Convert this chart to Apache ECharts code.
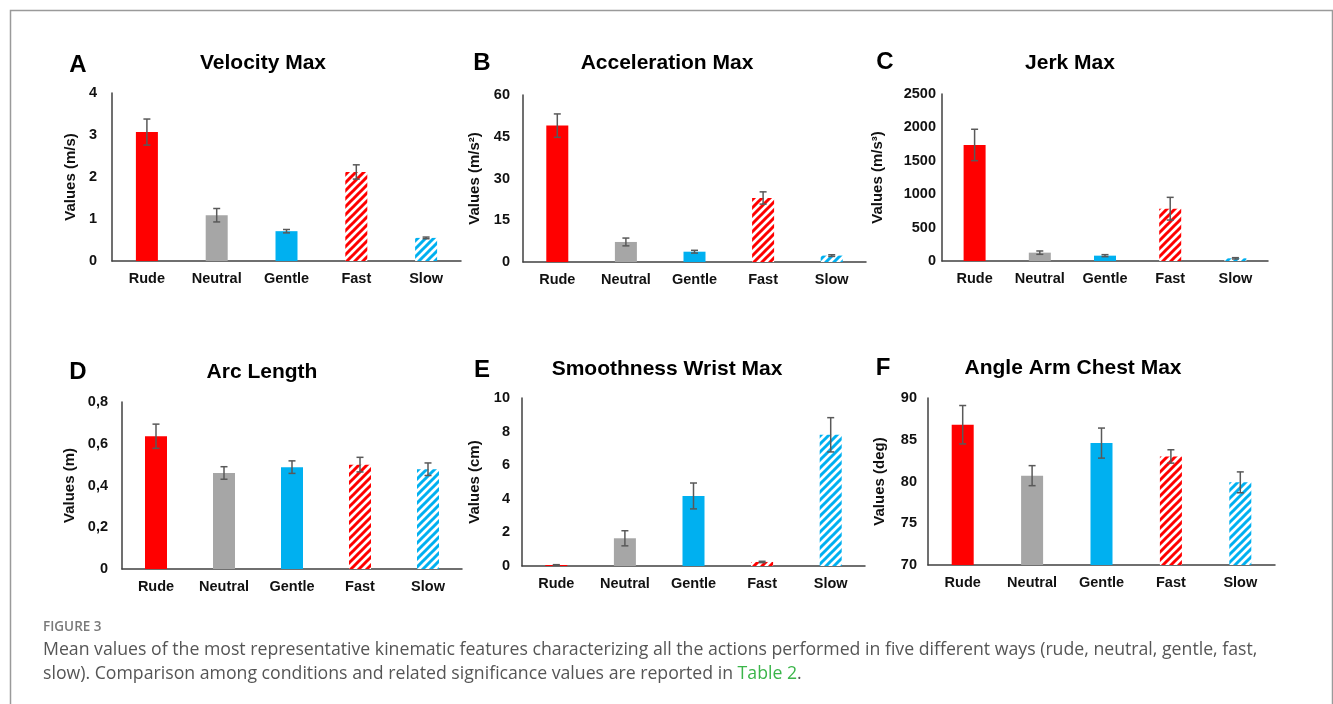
<!DOCTYPE html>
<html>
<head>
<meta charset="utf-8">
<script src="https://cdn.jsdelivr.net/npm/echarts@6/dist/echarts.min.js"></script>
<style>
  html, body { margin: 0; padding: 0; background: #fff; }
  #chart { width: 1333px; height: 704px; }
</style>
</head>
<body>
<div id="chart"></div>
<script>
// ---- data ----
const categories = ['Rude', 'Neutral', 'Gentle', 'Fast', 'Slow'];

const velocityMean = [3.07, 1.09, 0.71, 2.12, 0.55];
const velocityErr  = [0.31, 0.16, 0.04, 0.17, 0.02];

const accelMean = [49.0, 7.2, 3.7, 23.0, 2.3];
const accelErr  = [4.2, 1.4, 0.5, 2.2, 0.3];

const jerkMean = [1737, 125, 80, 783, 40];
const jerkErr  = [235, 25, 15, 170, 10];

const arcMean = [0.636, 0.460, 0.488, 0.500, 0.478];
const arcErr  = [0.058, 0.030, 0.030, 0.035, 0.030];

const smoothMean = [0.06, 1.65, 4.17, 0.24, 7.81];
const smoothErr  = [0.02, 0.45, 0.77, 0.04, 1.02];

const angleMean = [86.8, 80.7, 84.6, 83.0, 79.9];
const angleErr  = [2.3, 1.2, 1.8, 0.8, 1.25];

const FONT = '"Liberation Sans", Arial, sans-serif';
const RED = '#ff0000', GREY = '#a6a6a6', BLUE = '#00b0f0';

// diagonal hatch ("/") as a canvas pattern
function hatch(color) {
  const s = 8;
  const c = document.createElement('canvas');
  c.width = s; c.height = s;
  const ctx = c.getContext('2d');
  ctx.fillStyle = '#fff';
  ctx.fillRect(0, 0, s, s);
  ctx.strokeStyle = color;
  ctx.lineWidth = 3;
  ctx.beginPath();
  ctx.moveTo(-1, s + 1); ctx.lineTo(s + 1, -1);
  ctx.moveTo(-1, 1); ctx.lineTo(1, -1);
  ctx.moveTo(s - 1, s + 1); ctx.lineTo(s + 1, s - 1);
  ctx.stroke();
  return { image: c, repeat: 'repeat' };
}

const fills = [RED, GREY, BLUE, hatch(RED), hatch(BLUE)];

// panel layout: grid box, axis range, label spacing
const panels = [
  { letter: 'A', title: 'Velocity Max', unit: 'Values (m/s)', mean: velocityMean, err: velocityErr,
    box: [112, 93, 349, 168], min: 0, max: 4, step: 1, margin: 15, gap: 34, lx: 78, ly: 65, tx: 263, ty: 63 },
  { letter: 'B', title: 'Acceleration Max', unit: 'Values (m/s²)', mean: accelMean, err: accelErr,
    box: [523, 95, 343, 167], min: 0, max: 60, step: 15, margin: 13, gap: 41, lx: 482, ly: 63, tx: 667, ty: 63 },
  { letter: 'C', title: 'Jerk Max', unit: 'Values (m/s³)', mean: jerkMean, err: jerkErr,
    box: [942, 94, 326, 167], min: 0, max: 2500, step: 500, margin: 6, gap: 57, lx: 885, ly: 62, tx: 1070, ty: 63 },
  { letter: 'D', title: 'Arc Length', unit: 'Values (m)', mean: arcMean, err: arcErr,
    box: [122, 402, 340, 167], min: 0, max: 0.8, step: 0.2, margin: 14, gap: 45, lx: 78, ly: 372, tx: 262, ty: 372,
    fmt: v => v === 0 ? '0' : v.toFixed(1).replace('.', ',') },
  { letter: 'E', title: 'Smoothness Wrist Max', unit: 'Values (cm)', mean: smoothMean, err: smoothErr,
    box: [522, 398, 343, 168], min: 0, max: 10, step: 2, margin: 12, gap: 40, lx: 482, ly: 370, tx: 667, ty: 369 },
  { letter: 'F', title: 'Angle Arm Chest Max', unit: 'Values (deg)', mean: angleMean, err: angleErr,
    box: [928, 398, 347, 167], min: 70, max: 90, step: 5, margin: 11, gap: 41, lx: 883, ly: 368, tx: 1073, ty: 368 }
];

function renderErr(params, api) {
  const x = api.value(0), m = api.value(1), e = api.value(2);
  const hi = api.coord([x, m + e]);
  const lo = api.coord([x, m - e]);
  const w = 3.5;
  const style = { stroke: '#595959', lineWidth: 1.5 };
  return {
    type: 'group',
    children: [
      { type: 'line', shape: { x1: hi[0], y1: hi[1], x2: lo[0], y2: lo[1] }, style },
      { type: 'line', shape: { x1: hi[0] - w, y1: hi[1], x2: hi[0] + w, y2: hi[1] }, style },
      { type: 'line', shape: { x1: lo[0] - w, y1: lo[1], x2: lo[0] + w, y2: lo[1] }, style }
    ]
  };
}

const grid = [], xAxis = [], yAxis = [], series = [], graphic = [];

panels.forEach((p, i) => {
  grid.push({ left: p.box[0], top: p.box[1], width: p.box[2], height: p.box[3] });

  xAxis.push({
    type: 'category', gridIndex: i, data: categories,
    axisLine: { lineStyle: { color: '#404040', width: 1.5 } },
    axisTick: { show: false },
    axisLabel: { color: '#111', fontFamily: FONT, fontWeight: 'bold', fontSize: 14.5, margin: 10 }
  });

  yAxis.push({
    type: 'value', gridIndex: i, min: p.min, max: p.max, interval: p.step,
    name: p.unit, nameLocation: 'middle', nameRotate: 90, nameGap: p.gap,
    nameTextStyle: { color: '#111', fontFamily: FONT, fontWeight: 'bold', fontSize: 15 },
    axisLine: { show: true, lineStyle: { color: '#404040', width: 1.5 } },
    axisTick: { show: false },
    splitLine: { show: false },
    axisLabel: { color: '#111', fontFamily: FONT, fontWeight: 'bold', fontSize: 14.5, margin: p.margin,
                 formatter: p.fmt || (v => String(v)) }
  });

  series.push({
    type: 'bar', xAxisIndex: i, yAxisIndex: i, barWidth: 22, clip: true,
    data: p.mean.map((v, k) => ({ value: v, itemStyle: { color: fills[k] } })),
    silent: true
  });

  series.push({
    type: 'custom', xAxisIndex: i, yAxisIndex: i, z: 5, silent: true,
    renderItem: renderErr,
    data: p.mean.map((v, k) => [k, v, p.err[k]])
  });

  graphic.push({
    type: 'text', x: p.lx, y: p.ly,
    style: { text: p.letter, fill: '#000', font: 'bold 24px ' + FONT, textAlign: 'center', textVerticalAlign: 'middle' }
  });
  graphic.push({
    type: 'text', x: p.tx, y: p.ty,
    style: { text: p.title, fill: '#000', font: 'bold 21px ' + FONT, textAlign: 'center', textVerticalAlign: 'middle' }
  });
});

// frame round the figure
graphic.push({
  type: 'rect', shape: { x: 10.5, y: 10.5, width: 1322, height: 800 },
  style: { fill: 'none', stroke: '#9a9a9a', lineWidth: 1.5 }, z: -1
});

// caption
const CAP = '"Open Sans", "Noto Sans", sans-serif';
graphic.push({
  type: 'text', x: 43, y: 627,
  style: { text: 'FIGURE 3', fill: '#7a7a7a', font: '600 13.5px ' + CAP, textVerticalAlign: 'middle' }
});
graphic.push({
  type: 'text', x: 43, y: 650,
  style: { text: 'Mean values of the most representative kinematic features characterizing all the actions performed in five different ways (rude, neutral, gentle, fast,',
           fill: '#555', font: '17.7px ' + CAP, textVerticalAlign: 'middle' }
});
graphic.push({
  type: 'text', x: 43, y: 674,
  style: {
    text: '{t|slow). Comparison among conditions and related significance values are reported in }{g|Table 2}{t|.}',
    textVerticalAlign: 'middle',
    rich: {
      t: { fill: '#555', fontFamily: CAP, fontSize: 17.7 },
      g: { fill: '#3bb54a', fontFamily: CAP, fontSize: 17.7 }
    }
  }
});

const chart = echarts.init(document.getElementById('chart'));
chart.setOption({
  animation: false,
  backgroundColor: '#fff',
  grid, xAxis, yAxis, series, graphic
});
</script>
</body>
</html>
